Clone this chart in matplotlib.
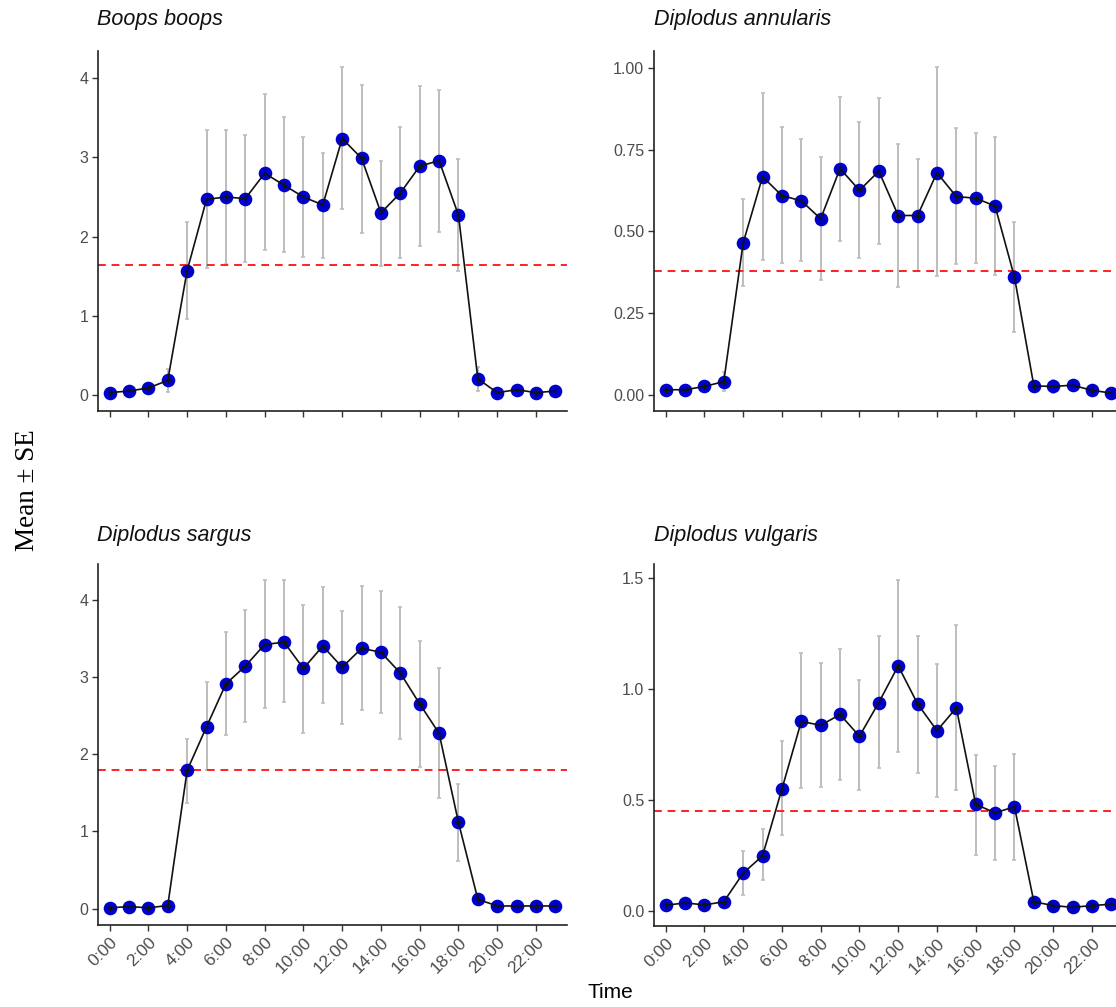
import matplotlib
matplotlib.use("Agg")
import matplotlib.pyplot as plt
import numpy as np

hours = list(range(24))
tick_hours = list(range(0, 24, 2))
tick_labels = [f"{h}:00" for h in tick_hours]

species = ["Boops boops", "Diplodus annularis", "Diplodus sargus", "Diplodus vulgaris"]

boops_mean = [0.025, 0.046, 0.084, 0.18, 1.57, 2.47, 2.50, 2.48, 2.80, 2.65, 2.50, 2.40,
              3.24, 2.99, 2.30, 2.55, 2.89, 2.96, 2.27, 0.20, 0.025, 0.063, 0.025, 0.046]
boops_lo = [0.0, 0.01, 0.04, 0.03, 0.96, 1.60, 1.65, 1.68, 1.825, 1.81, 1.74, 1.73,
            2.35, 2.05, 1.625, 1.73, 1.875, 2.06, 1.56, 0.05, 0.0, 0.02, 0.0, 0.01]
boops_hi = [0.05, 0.08, 0.13, 0.33, 2.19, 3.35, 3.35, 3.29, 3.80, 3.51, 3.26, 3.06,
            4.14, 3.92, 2.96, 3.38, 3.90, 3.85, 2.98, 0.35, 0.05, 0.10, 0.05, 0.08]
boops_avg = 1.64

annularis_mean = [0.015, 0.015, 0.025, 0.04, 0.465, 0.668, 0.61, 0.594, 0.539, 0.693, 0.626, 0.685,
                  0.549, 0.549, 0.680, 0.607, 0.602, 0.578, 0.36, 0.027, 0.025, 0.029, 0.013, 0.005]
annularis_lo = [0.005, 0.005, 0.012, 0.01, 0.334, 0.413, 0.404, 0.409, 0.352, 0.472, 0.419, 0.462,
                0.331, 0.379, 0.364, 0.399, 0.404, 0.366, 0.192, 0.012, 0.005, 0.012, 0.005, 0.0]
annularis_hi = [0.025, 0.025, 0.038, 0.07, 0.599, 0.924, 0.821, 0.784, 0.728, 0.911, 0.835, 0.908,
                0.768, 0.723, 1.003, 0.817, 0.801, 0.789, 0.529, 0.042, 0.045, 0.046, 0.021, 0.01]
annularis_avg = 0.378

sargus_mean = [0.01, 0.026, 0.01, 0.04, 1.79, 2.355, 2.91, 3.14, 3.42, 3.45, 3.11, 3.40,
               3.125, 3.37, 3.32, 3.05, 2.65, 2.27, 1.116, 0.12, 0.034, 0.034, 0.034, 0.034]
sargus_lo = [0.0, 0.01, 0.0, 0.01, 1.37, 1.79, 2.25, 2.41, 2.60, 2.67, 2.28, 2.66,
             2.39, 2.57, 2.53, 2.20, 1.83, 1.43, 0.62, 0.06, 0.02, 0.02, 0.02, 0.02]
sargus_hi = [0.02, 0.045, 0.02, 0.07, 2.20, 2.94, 3.58, 3.87, 4.25, 4.25, 3.93, 4.16,
             3.85, 4.18, 4.11, 3.91, 3.46, 3.11, 1.61, 0.18, 0.05, 0.05, 0.05, 0.05]
sargus_avg = 1.79

vulgaris_mean = [0.024, 0.035, 0.026, 0.04, 0.169, 0.247, 0.548, 0.853, 0.835, 0.884, 0.786, 0.938,
                 1.103, 0.932, 0.811, 0.914, 0.479, 0.441, 0.468, 0.04, 0.023, 0.015, 0.023, 0.029]
vulgaris_lo = [0.012, 0.02, 0.012, 0.02, 0.069, 0.14, 0.339, 0.554, 0.559, 0.591, 0.542, 0.643,
               0.716, 0.621, 0.512, 0.542, 0.253, 0.23, 0.227, 0.02, 0.01, 0.005, 0.01, 0.015]
vulgaris_hi = [0.036, 0.05, 0.04, 0.06, 0.268, 0.366, 0.764, 1.16, 1.116, 1.177, 1.038, 1.239,
               1.488, 1.239, 1.11, 1.287, 0.701, 0.654, 0.708, 0.06, 0.036, 0.025, 0.036, 0.043]
vulgaris_avg = 0.449

data = [
    (boops_mean, boops_lo, boops_hi, boops_avg, [0, 1, 2, 3, 4], ["0", "1", "2", "3", "4"]),
    (annularis_mean, annularis_lo, annularis_hi, annularis_avg,
     [0, 0.25, 0.5, 0.75, 1.0], ["0.00", "0.25", "0.50", "0.75", "1.00"]),
    (sargus_mean, sargus_lo, sargus_hi, sargus_avg, [0, 1, 2, 3, 4], ["0", "1", "2", "3", "4"]),
    (vulgaris_mean, vulgaris_lo, vulgaris_hi, vulgaris_avg,
     [0, 0.5, 1.0, 1.5], ["0.0", "0.5", "1.0", "1.5"]),
]

W, H = 1116, 1007
fig = plt.figure(figsize=(W / 100, H / 100), dpi=100)
plt.rcParams['font.family'] = ['Liberation Sans', 'DejaVu Sans']

# axes boxes in pixels: left, top, width, height
boxes = [(98, 51, 469, 360), (654, 51, 469, 360), (98, 564, 469, 361), (654, 564, 469, 362)]
title_pos = [(97, 20), (654, 20), (97, 535), (654, 535)]
tick_col = '#4D4D4D'

for i, (box, (mean, lo, hi, avg, yt, ytl)) in enumerate(zip(boxes, data)):
    l, t, w, h = box
    ax = fig.add_axes([l / W, 1 - (t + h) / H, w / W, h / H])
    mean = np.array(mean)
    lo = np.array(lo)
    hi = np.array(hi)
    ax.errorbar(hours, mean, yerr=[mean - lo, hi - mean], fmt='none',
                ecolor='#BDBDBD', elinewidth=1.4, capsize=1.5, capthick=1.2, zorder=1)
    ax.axhline(avg, color='#FF2020', ls=(0, (4, 3)), lw=1.4, zorder=2)
    ax.plot(hours, mean, 'o', color='#0000CD', markersize=9.8, markeredgewidth=0, zorder=3)
    ax.plot(hours, mean, '-', color='#111111', lw=1.2, zorder=4)
    ax.plot(hours, mean, '+', color='#111111', markersize=4, markeredgewidth=0.8, zorder=5)
    allv = np.concatenate([lo, hi])
    rng = allv.max() - allv.min()
    ax.set_ylim(allv.min() - 0.05 * rng, allv.max() + 0.05 * rng)
    ax.set_xlim(-0.6, 23.6)
    ax.set_yticks(yt)
    ax.set_yticklabels(ytl, fontsize=11.5, color=tick_col)
    ax.set_xticks(tick_hours)
    if i >= 2:
        ax.set_xticklabels(tick_labels, fontsize=12.5, color=tick_col, rotation=45,
                           ha='right', va='top', rotation_mode='anchor')
    else:
        ax.set_xticklabels([])
    for s in ['top', 'right']:
        ax.spines[s].set_visible(False)
    for s in ['left', 'bottom']:
        ax.spines[s].set_linewidth(1.2)
        ax.spines[s].set_color('#222222')
    ax.tick_params(axis='both', length=4, width=1.0, color='#333333', pad=3)
    tx, ty = title_pos[i]
    fig.text(tx / W, 1 - ty / H, species[i], fontsize=15.5, style='italic',
             ha='left', va='center', color='#111111')

fig.text(28 / W, 1 - 490 / H, "Mean ± SE", rotation=90, fontsize=19.5,
         family=['Liberation Serif', 'DejaVu Serif'], ha='center', va='center')
fig.text(610 / W, 1 - 993 / H, "Time", fontsize=15, ha='center', va='center')

fig.savefig("out.png", dpi=100)
